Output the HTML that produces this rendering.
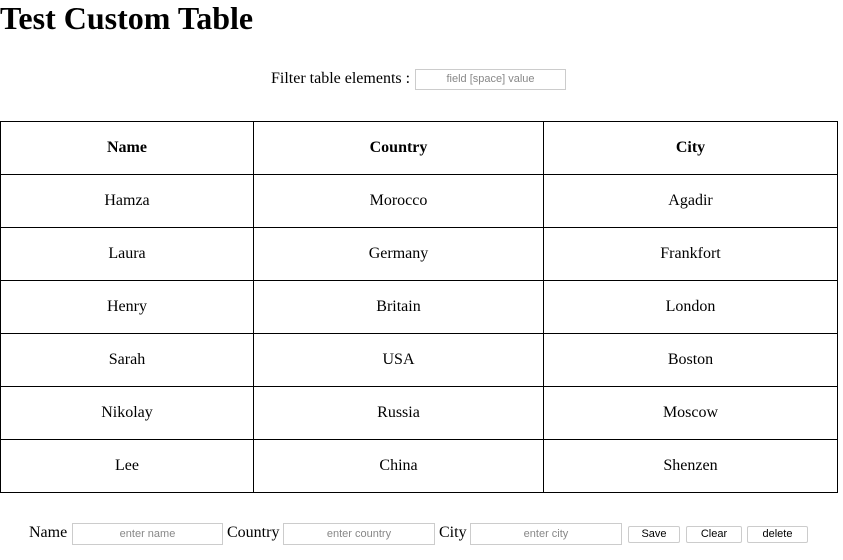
<!DOCTYPE html>
<html><head><meta charset="utf-8"><style>
body{margin:0;width:843px;height:560px;background:#fff;font-family:"Liberation Serif",serif;position:relative;overflow:hidden}
h1{position:absolute;left:0;top:0px;margin:0;font-size:32px;font-weight:bold;letter-spacing:0}
.inp{position:absolute;border:1px solid #ccc;height:20px;box-sizing:border-box;font-family:"Liberation Sans",sans-serif;font-size:11px;color:#888;text-align:center;line-height:18px;background:#fff}
table{position:absolute;left:0;top:121px;width:838px;border-collapse:collapse}
td,th{border:1px solid #000;height:52px;text-align:center;font-size:16px;padding:0}
th{font-weight:bold}
.lbl{position:absolute;font-size:16px}
.btn{position:absolute;border:1px solid #ccc;border-radius:2px;height:17px;box-sizing:border-box;font-family:"Liberation Sans",sans-serif;font-size:11px;text-align:center;line-height:15px;background:#fff;color:#000}
</style></head><body>
<h1>Test Custom Table</h1>
<div class="lbl" style="left:271px;top:70px">Filter table elements :</div>
<div class="inp" style="left:415px;top:69px;width:151px;height:21px;line-height:19px">field [space] value</div>
<table>
<tr><th style="width:252px">Name</th><th style="width:289px">Country</th><th>City</th></tr>
<tr><td>Hamza</td><td>Morocco</td><td>Agadir</td></tr>
<tr><td>Laura</td><td>Germany</td><td>Frankfort</td></tr>
<tr><td>Henry</td><td>Britain</td><td>London</td></tr>
<tr><td>Sarah</td><td>USA</td><td>Boston</td></tr>
<tr><td>Nikolay</td><td>Russia</td><td>Moscow</td></tr>
<tr><td>Lee</td><td>China</td><td>Shenzen</td></tr>
</table>
<div class="lbl" style="left:29px;top:524px">Name</div>
<div class="inp" style="left:72px;top:523px;width:151px;height:22px;line-height:20px">enter name</div>
<div class="lbl" style="left:227px;top:524px">Country</div>
<div class="inp" style="left:283px;top:523px;width:152px;height:22px;line-height:20px">enter country</div>
<div class="lbl" style="left:439px;top:524px">City</div>
<div class="inp" style="left:470px;top:523px;width:152px;height:22px;line-height:20px">enter city</div>
<div class="btn" style="left:628px;top:526px;width:52px">Save</div>
<div class="btn" style="left:686px;top:526px;width:56px">Clear</div>
<div class="btn" style="left:747px;top:526px;width:61px">delete</div>
</body></html>
